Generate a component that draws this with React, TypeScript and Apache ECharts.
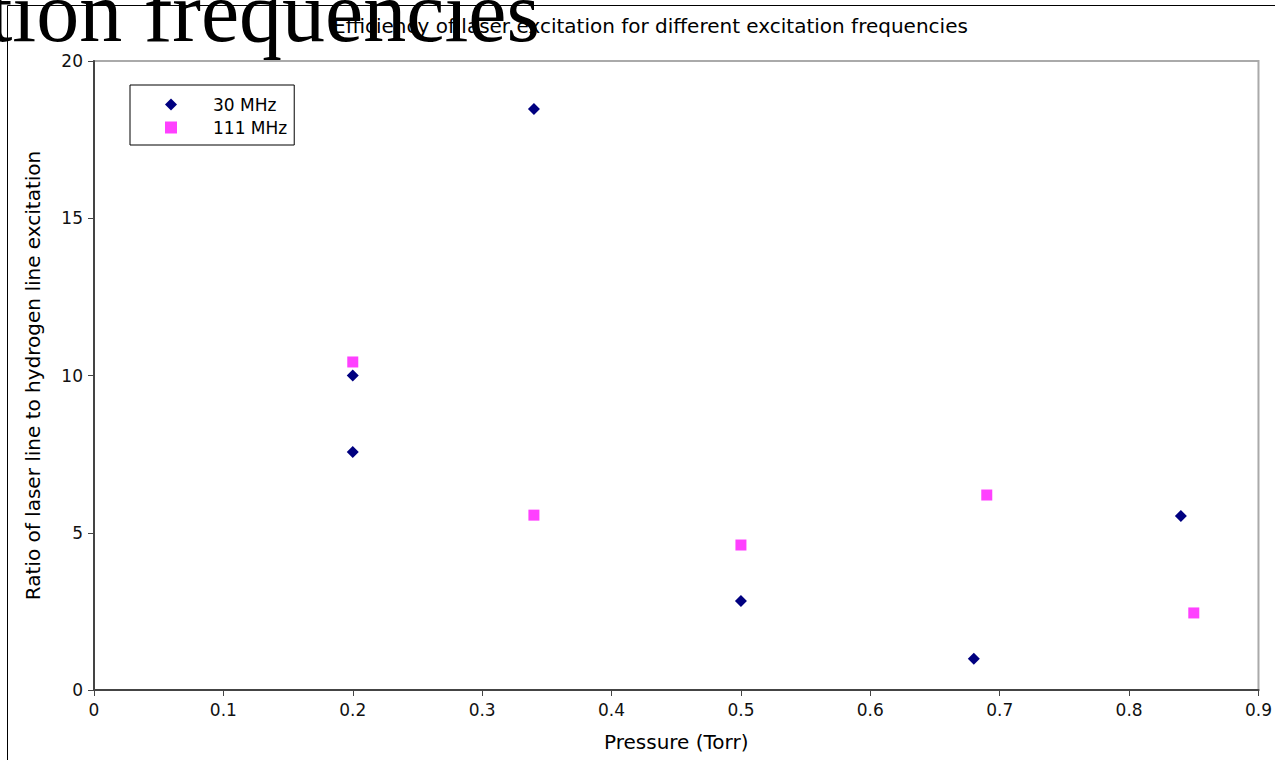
import React, { useEffect, useRef } from "react";
import * as echarts from "echarts";

const titleText = "Efficiency of laser excitation for different excitation frequencies";
const xAxisName = "Pressure (Torr)";
const yAxisName = "Ratio of laser line to hydrogen line excitation";
const seriesNames = ["30 MHz", "111 MHz"];

const mhz30: [number, number][] = [
  [0.2, 10.0],
  [0.2, 7.57],
  [0.34, 18.47],
  [0.5, 2.83],
  [0.68, 0.99],
  [0.84, 5.53],
];

const mhz111: [number, number][] = [
  [0.2, 10.43],
  [0.34, 5.56],
  [0.5, 4.61],
  [0.69, 6.2],
  [0.85, 2.45],
];

const FONT = "DejaVu Sans";

export default function App() {
  const ref = useRef<HTMLDivElement>(null);
  useEffect(() => {
    if (!ref.current) return;
    const chart = echarts.init(ref.current, null, { renderer: "svg" });
    chart.setOption({
      animation: false,
      backgroundColor: "#ffffff",
      title: {
        text: titleText,
        left: 333,
        top: 16,
        padding: 0,
        textStyle: { fontFamily: FONT, fontSize: 20, fontWeight: "normal", color: "#000" },
      },
      grid: {
        left: 94,
        right: 14,
        top: 61,
        bottom: 70,
        show: true,
        borderColor: "#aaaaaa",
        borderWidth: 2,
        backgroundColor: "transparent",
      },
      legend: {
        orient: "vertical",
        left: 130,
        top: 85,
        padding: [11, 7, 9, 35],
        itemWidth: 12,
        itemHeight: 12,
        itemGap: 6,
        borderColor: "#000",
        borderWidth: 1,
        textStyle: { fontFamily: FONT, fontSize: 17, color: "#000", padding: [0, 0, 0, 31], lineHeight: 17 },
        data: seriesNames,
      },
      xAxis: {
        type: "value",
        min: 0,
        max: 0.9,
        interval: 0.1,
        name: xAxisName,
        nameLocation: "middle",
        nameGap: 42,
        nameTextStyle: { fontFamily: FONT, fontSize: 20, color: "#000" },
        axisLine: { show: true, lineStyle: { color: "#444", width: 2 } },
        axisTick: { show: true, length: 6, lineStyle: { color: "#444", width: 1 } },
        axisLabel: {
          fontFamily: FONT,
          fontSize: 17,
          color: "#111",
          margin: 11,
          formatter: (v: number) => String(Number(v.toFixed(2))),
        },
        splitLine: { show: false },
      },
      yAxis: {
        type: "value",
        min: 0,
        max: 20,
        interval: 5,
        name: yAxisName,
        nameLocation: "middle",
        nameGap: 51,
        nameTextStyle: { fontFamily: FONT, fontSize: 20, color: "#000" },
        axisLine: { show: true, lineStyle: { color: "#444", width: 2 } },
        axisTick: { show: true, length: 6, lineStyle: { color: "#444", width: 1 } },
        axisLabel: { fontFamily: FONT, fontSize: 17, color: "#111", margin: 11 },
        splitLine: { show: false },
      },
      series: [
        {
          name: seriesNames[0],
          type: "scatter",
          symbol: "diamond",
          symbolSize: 12,
          itemStyle: { color: "#000080", opacity: 1 },
          data: mhz30,
        },
        {
          name: seriesNames[1],
          type: "scatter",
          symbol: "rect",
          symbolSize: 11,
          itemStyle: { color: "#ff40ff", opacity: 1 },
          data: mhz111,
        },
      ],
      graphic: [
        {
          type: "rect",
          z: 100,
          shape: { x: 7.5, y: 5.5, width: 2000, height: 2000 },
          style: { fill: "none", stroke: "#000", lineWidth: 1 },
          silent: true,
        },
        {
          type: "text",
          z: 50,
          x: 540,
          y: 55,
          style: {
            text: titleText,
            font: "86px 'Liberation Serif'",
            fill: "#000",
            align: "right",
            verticalAlign: "bottom",
          },
          silent: true,
        },
      ],
    });
    return () => chart.dispose();
  }, []);
  return (
    <div
      ref={ref}
      style={{ position: "absolute", left: 0, top: 0, width: 1275, height: 760 }}
    />
  );
}
